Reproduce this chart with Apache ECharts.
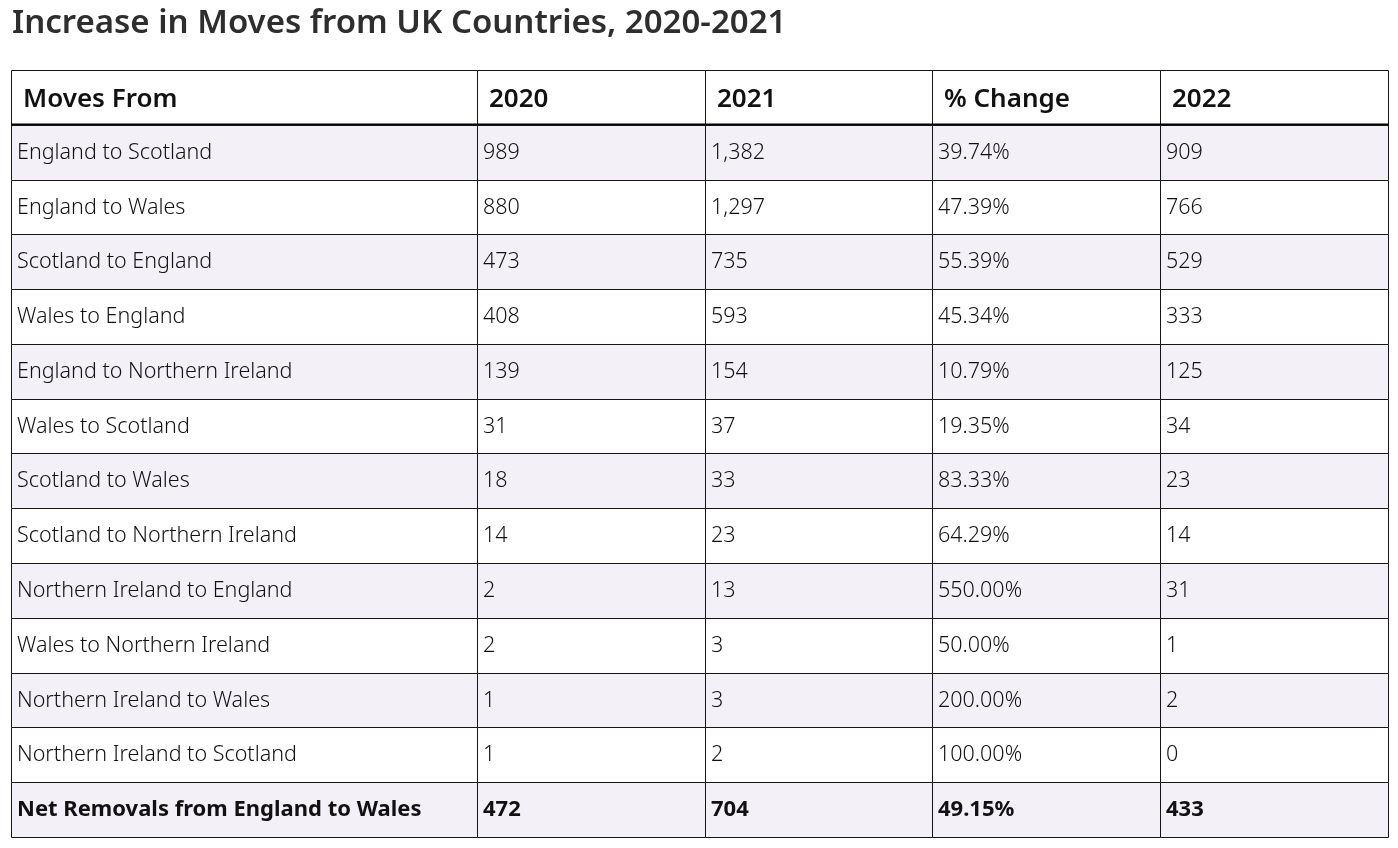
<!DOCTYPE html>
<html>
<head>
<meta charset="utf-8">
<script src="https://cdn.jsdelivr.net/npm/echarts@6/dist/echarts.min.js"></script>
<style>html,body{margin:0;padding:0;background:#fff;}#chart{width:1398px;height:848px;}</style>
</head>
<body>
<div id="chart"></div>
<script>
const title = "Increase in Moves from UK Countries, 2020-2021";
const headers = ["Moves From", "2020", "2021", "% Change", "2022"];
const categories = [
  "England to Scotland", "England to Wales", "Scotland to England", "Wales to England",
  "England to Northern Ireland", "Wales to Scotland", "Scotland to Wales",
  "Scotland to Northern Ireland", "Northern Ireland to England", "Wales to Northern Ireland",
  "Northern Ireland to Wales", "Northern Ireland to Scotland", "Net Removals from England to Wales"
];
const v2020 = [989, 880, 473, 408, 139, 31, 18, 14, 2, 2, 1, 1, 472];
const v2021 = [1382, 1297, 735, 593, 154, 37, 33, 23, 13, 3, 3, 2, 704];
const pctChange = [39.74, 47.39, 55.39, 45.34, 10.79, 19.35, 83.33, 64.29, 550.00, 50.00, 200.00, 100.00, 49.15];
const v2022 = [909, 766, 529, 333, 125, 34, 23, 14, 31, 1, 2, 0, 433];

// layout
const colWeights = [466, 228, 227, 228, 228];
const FONT = '"Noto Sans", "Open Sans", sans-serif';
const fmt = n => n.toLocaleString('en-US');

const rowIds = ['__header__'].concat(categories);
const cellData = [];
const cellText = [];
headers.forEach((h, c) => { cellData.push([c, 0]); cellText.push(h); });
categories.forEach((name, i) => {
  const vals = [name, fmt(v2020[i]), fmt(v2021[i]), pctChange[i].toFixed(2) + '%', fmt(v2022[i])];
  vals.forEach((t, c) => { cellData.push([c, i + 1]); cellText.push(t); });
});
const totalW = colWeights.reduce((a, b) => a + b, 0);
const lastRow = categories.length;

const chart = echarts.init(document.getElementById('chart'), null, { renderer: 'canvas' });
chart.setOption({
  animation: false,
  backgroundColor: '#fff',
  title: {
    text: title, left: 12, top: 7, padding: 0,
    textStyle: { fontFamily: FONT, fontSize: 33, fontWeight: 600, color: '#2e2e2e' }
  },
  grid: { left: 11, top: 70, right: 10, bottom: 11 },
  xAxis: { type: 'value', min: 0, max: 1, show: false },
  yAxis: { type: 'category', data: rowIds, inverse: true, show: false },
  series: [{
    type: 'custom',
    clip: false,
    data: cellData,
    encode: { x: 0, y: 1 },
    renderItem: function (params, api) {
      const c = api.value(0), r = api.value(1);
      const cs = params.coordSys;
      let acc = 0;
      for (let k = 0; k < c; k++) acc += colWeights[k];
      const x0 = Math.round(cs.x + acc / totalW * cs.width) + 0.5;
      const x1 = Math.round(cs.x + (acc + colWeights[c]) / totalW * cs.width) + 0.5;
      const ctr = api.coord([0, r]);
      const bh = api.size([0, 1])[1];
      const y0 = Math.round(ctr[1] - bh / 2) + 0.5;
      const y1 = Math.round(ctr[1] + bh / 2) + 0.5;
      const header = r === 0;
      const boldRow = r === lastRow;
      const fill = (r % 2 === 1) ? '#f4f0f8' : '#ffffff';
      const children = [{
        type: 'rect',
        shape: { x: x0, y: y0, width: x1 - x0, height: y1 - y0 },
        style: { fill: fill, stroke: '#151515', lineWidth: 1 }
      }, {
        type: 'text',
        x: x0 + (header ? 11.5 : 5.5),
        y: (y0 + y1) / 2 + (header ? 2 : 0),
        style: {
          text: cellText[params.dataIndex],
          fill: '#111',
          fontFamily: FONT,
          fontSize: header ? 26 : (boldRow ? 22 : 21.5),
          fontWeight: header ? 600 : (boldRow ? 700 : 300),
          align: 'left',
          verticalAlign: 'middle'
        }
      }];
      if (header) {
        children.push({
          type: 'line',
          shape: { x1: x0 - 0.5, y1: y1 - 0.5, x2: x1 + 0.5, y2: y1 - 0.5 },
          style: { stroke: '#000', lineWidth: 3 }
        });
      }
      return { type: 'group', children: children };
    }
  }]
});
</script>
</body>
</html>
